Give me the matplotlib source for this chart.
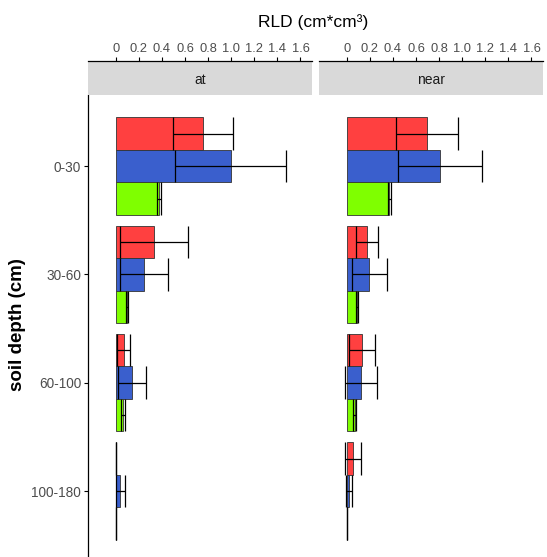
import numpy as np
import matplotlib
matplotlib.use("Agg")
import matplotlib.pyplot as plt

plt.rcParams['font.family'] = ['Liberation Sans', 'DejaVu Sans']

# data
depths = ['0-30', '30-60', '60-100', '100-180']
panels = ['at', 'near']

at_red = [0.755, 0.335, 0.07, 0.0]
at_red_se = [0.262, 0.295, 0.055, 0.0]
at_blue = [0.997, 0.245, 0.14, 0.04]
at_blue_se = [0.48, 0.205, 0.122, 0.04]
at_green = [0.375, 0.095, 0.062, 0.0]
at_green_se = [0.015, 0.008, 0.018, 0.0]

near_red = [0.695, 0.176, 0.131, 0.057]
near_red_se = [0.272, 0.098, 0.114, 0.068]
near_blue = [0.808, 0.197, 0.126, 0.02]
near_blue_se = [0.363, 0.15, 0.14, 0.025]
near_green = [0.37, 0.09, 0.068, 0.0]
near_green_se = [0.015, 0.006, 0.016, 0.0]

colors = ['#FF4040', '#3A5FCD', '#7FFF00']
xticks = [0, 0.2, 0.4, 0.6, 0.8, 1.0, 1.2, 1.4, 1.6]
xticklabels = ['0', '0.2', '0.4', '0.6', '0.8', '1.0', '1.2', '1.4', '1.6']

W, H = 547, 557
fig = plt.figure(figsize=(W / 100, H / 100), dpi=100)

def px_rect(x0, y0, x1, y1):
    # pixel box (top-left origin) -> figure fraction rect
    return [x0 / W, 1 - y1 / H, (x1 - x0) / W, (y1 - y0) / H]

panel_data = {
    'at': [(at_red, at_red_se), (at_blue, at_blue_se), (at_green, at_green_se)],
    'near': [(near_red, near_red_se), (near_blue, near_blue_se), (near_green, near_green_se)],
}
panel_x = {'at': (88, 312), 'near': (319, 543)}
xlim = (-0.24, 1.70)
ypos = np.arange(len(depths))
offsets = [-0.3, 0.0, 0.3]
h = 0.3

for name in panels:
    x0, x1 = panel_x[name]
    ax = fig.add_axes(px_rect(x0, 95, x1, 556))
    for (vals, se), off, col in zip(panel_data[name], offsets, colors):
        yy = ypos + off
        vals = np.array(vals)
        se = np.array(se)
        ax.barh(yy, vals, height=h, color=col, edgecolor='#333333', linewidth=0.6, zorder=2)
        lo = vals - se
        hi = vals + se
        ax.hlines(yy, lo, hi, color='black', linewidth=0.9, zorder=3)
        ax.vlines(lo, yy - h / 2, yy + h / 2, color='black', linewidth=0.9, zorder=3)
        ax.vlines(hi, yy - h / 2, yy + h / 2, color='black', linewidth=0.9, zorder=3)
    ax.set_xlim(*xlim)
    ax.set_ylim(3.6, -0.656)
    ax.set_xticks([])
    for s in ['top', 'right', 'bottom']:
        ax.spines[s].set_visible(False)
    if name == 'at':
        ax.spines['left'].set_linewidth(0.9)
        ax.set_yticks(ypos)
        ax.set_yticklabels(depths, fontsize=9.8, color='#4D4D4D')
        ax.tick_params(axis='y', length=3, width=0.8, pad=2)
    else:
        ax.spines['left'].set_visible(False)
        ax.set_yticks([])

    # strip with the top axis on it
    sax = fig.add_axes(px_rect(x0, 61.5, x1, 95))
    sax.set_facecolor('#D9D9D9')
    sax.set_xlim(*xlim)
    sax.set_ylim(0, 1)
    sax.set_yticks([])
    for s in ['left', 'right', 'bottom']:
        sax.spines[s].set_visible(False)
    sax.spines['top'].set_linewidth(0.9)
    sax.xaxis.tick_top()
    sax.set_xticks(xticks)
    sax.set_xticklabels(xticklabels, fontsize=9.3, color='#4D4D4D')
    sax.tick_params(axis='x', length=3, width=0.8, pad=2)
    sax.text(0.5, 0.45, name, transform=sax.transAxes, ha='center', va='center',
             fontsize=10, color='#1A1A1A')

fig.text(313 / W, 1 - 22 / H, 'RLD (cm*cm³)', ha='center', va='center', fontsize=12.5)
fig.text(18 / W, 1 - 325 / H, 'soil depth (cm)', ha='center', va='center',
         rotation=90, fontsize=13.5, fontweight='bold')

fig.savefig('out.png', dpi=100)
